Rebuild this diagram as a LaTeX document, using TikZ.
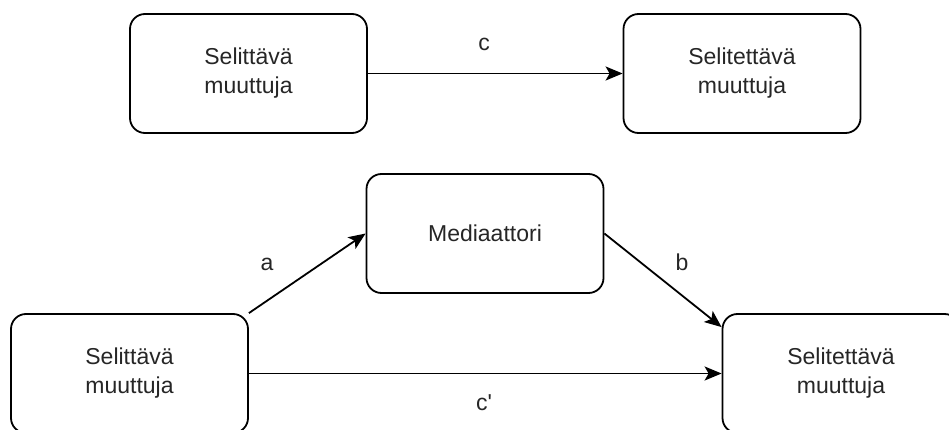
\documentclass[tikz,border=0pt]{standalone}
\usepackage{fontspec}
\setmainfont{Liberation Sans}
\usetikzlibrary{arrows.meta,positioning,calc}

\tikzset{
	muuttuja/.style={draw, line width=1.8pt, rounded corners=15pt,
		minimum width=237pt, minimum height=119pt, align=center,
		text=black!85, font=\fontsize{23}{29}\selectfont},
	nuoli/.style={-{Stealth[length=17pt,width=14pt,inset=4pt]}, line width=1.8pt},
	kerroin/.style={text=black!85, font=\fontsize{23}{29}\selectfont}
}

\begin{document}
\begin{tikzpicture}[x=1pt,y=-1pt]
		\useasboundingbox (0,0) rectangle (949,430);

		% kokonaisvaikutus
		\node[muuttuja] (X1) at (248.5,73.5) {Selittävä\\muuttuja};
		\node[muuttuja] (Y1) at (742,73.5) {Selitettävä\\muuttuja};
		\draw[nuoli] (X1.east) -- (Y1.west);
		\node[kerroin] (c) at (484,44) {c};

		% mediaatiomalli
		\node[muuttuja] (M) at (485,233.5) {Mediaattori};
		\node[muuttuja] (X2) at (129.5,373.5) {Selittävä\\muuttuja};
		\node[muuttuja] (Y2) at (841,373.5) {Selitettävä\\muuttuja};
		\coordinate (Y2b) at ($(Y2.north west)+(0,14)$);

		\draw[nuoli] (X2.north east) -- (M.west);
		\draw[nuoli] (M.east) -- (Y2b);
		\draw[nuoli] (X2.east) -- (Y2.west);
		\node[kerroin] (a) at (267,264) {a};
		\node[kerroin] (b) at (682,262) {b};
		\node[kerroin] (c') at (484,403) {c\textquotesingle};
	\end{tikzpicture}
\end{document}
